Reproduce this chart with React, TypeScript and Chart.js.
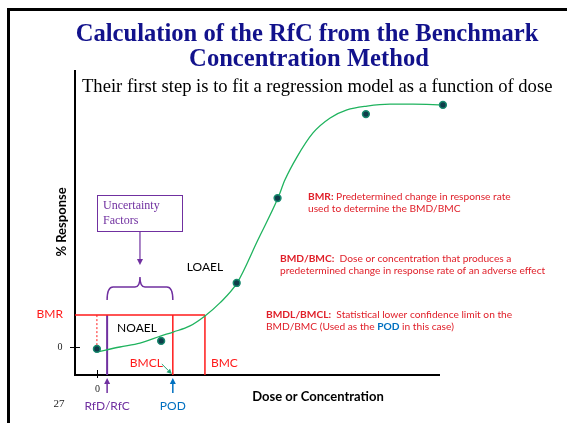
import React, { useEffect, useRef } from "react";
import { Chart, registerables } from "chart.js";

Chart.register(...registerables);

// ---- data (dose units / % response units) ----
const obsDose = [0, 17.6, 38.3, 49.5, 73.7, 94.8];
const obsResp = [-0.6, 2.3, 23.2, 53.8, 84.1, 87.4];
const fitDose = [0, 6.3, 11.8, 17.6, 20.9, 25.5, 29.6, 33.7, 38.4, 44.1, 49.6, 51.5, 54.8, 59.2, 63.9, 68.5, 74, 80.3, 86.6, 94.8];
const fitResp = [-1.7, 0.1, 1.5, 4.1, 5.5, 7.7, 11.3, 16.0, 23.2, 38.7, 53.8, 60.3, 68.6, 77.3, 82.7, 85.6, 87.0, 87.7, 87.7, 87.4];
const bmrLevel = 11.6;
const bmcDose = 29.6;
const bmclDose = 20.8;
const rfcDose = 2.8;
const xTicks = [0];
const yTicks = [0];
const doseRange = [-6, 94];
const respRange = [-10, 100];

const titleLines = ["Calculation of the RfC from the Benchmark", "Concentration Method"];
const subtitle = "Their first step is to fit a regression model as a function of dose";

const RED = "#ff1a1a";
const TXTRED = "#e0202a";
const PURPLE = "#7030a0";
const BLUE = "#0070c0";
const GREEN = "#1fb35e";
const SANS = "Lato, 'Noto Sans', sans-serif";
const SERIF = "'Liberation Serif', serif";

type Run = [string, boolean, string?];

function text(ctx: CanvasRenderingContext2D, s: string, x: number, y: number, font: string, color: string, align: CanvasTextAlign = "left") {
  ctx.font = font;
  ctx.fillStyle = color;
  ctx.textAlign = align;
  ctx.textBaseline = "middle";
  ctx.fillText(s, x, y);
}

function runs(ctx: CanvasRenderingContext2D, parts: Run[], x: number, y: number, size: number) {
  let cx = x;
  ctx.textAlign = "left";
  ctx.textBaseline = "middle";
  for (const [s, bold, col] of parts) {
    ctx.font = `${bold ? "bold " : ""}${size}px ${SANS}`;
    ctx.fillStyle = col || TXTRED;
    ctx.fillText(s, cx, y);
    cx += ctx.measureText(s).width;
  }
}

function arrow(ctx: CanvasRenderingContext2D, x1: number, y1: number, x2: number, y2: number, color: string, width: number, head: number) {
  const ang = Math.atan2(y2 - y1, x2 - x1);
  const bx = x2 - head * Math.cos(ang);
  const by = y2 - head * Math.sin(ang);
  ctx.strokeStyle = color;
  ctx.lineWidth = width;
  ctx.beginPath();
  ctx.moveTo(x1, y1);
  ctx.lineTo(bx, by);
  ctx.stroke();
  const px = -Math.sin(ang) * head * 0.5;
  const py = Math.cos(ang) * head * 0.5;
  ctx.fillStyle = color;
  ctx.beginPath();
  ctx.moveTo(x2, y2);
  ctx.lineTo(bx + px, by + py);
  ctx.lineTo(bx - px, by - py);
  ctx.closePath();
  ctx.fill();
}

const overlay = {
  id: "overlay",
  beforeDatasetsDraw(chart: any) {
    const ctx: CanvasRenderingContext2D = chart.ctx;
    const { left, right, top, bottom } = chart.chartArea;
    const xs = chart.scales.x;
    const ys = chart.scales.y;
    ctx.save();
    // slide frame
    ctx.fillStyle = "#000";
    ctx.fillRect(7, 8, 560, 3);
    ctx.fillRect(7, 8, 3, 415);
    // title
    text(ctx, titleLines[0], 307, 35, `bold 24.6px ${SERIF}`, "#12128c", "center");
    text(ctx, titleLines[1], 309, 60, `bold 24.6px ${SERIF}`, "#12128c", "center");
    text(ctx, subtitle, 82, 87, `18.6px ${SERIF}`, "#000", "left");
    // axes
    ctx.strokeStyle = "#000";
    ctx.lineWidth = 2;
    ctx.beginPath();
    ctx.moveTo(left, top);
    ctx.lineTo(left, bottom);
    ctx.lineTo(right, bottom);
    ctx.stroke();
    ctx.lineWidth = 1;
    for (const v of yTicks) {
      const py = Math.round(ys.getPixelForValue(v)) + 0.5;
      ctx.beginPath();
      ctx.moveTo(left - 5, py);
      ctx.lineTo(left + 5, py);
      ctx.stroke();
      text(ctx, String(v), left - 15, py, `10px ${SERIF}`, "#222", "center");
    }
    for (const v of xTicks) {
      const px = Math.round(xs.getPixelForValue(v)) + 0.5;
      ctx.beginPath();
      ctx.moveTo(px, bottom - 5);
      ctx.lineTo(px, bottom + 3);
      ctx.stroke();
      text(ctx, String(v), px, bottom + 14, `10px ${SERIF}`, "#222", "center");
    }
    ctx.restore();
  },
  afterDatasetsDraw(chart: any) {
    const ctx: CanvasRenderingContext2D = chart.ctx;
    const { left, bottom } = chart.chartArea;
    const xs = chart.scales.x;
    const ys = chart.scales.y;
    const xRfc = xs.getPixelForValue(rfcDose);
    const xBmcl = xs.getPixelForValue(bmclDose);
    const xBmc = xs.getPixelForValue(bmcDose);
    const yBmr = ys.getPixelForValue(bmrLevel);
    ctx.save();
    // axis titles
    ctx.save();
    ctx.translate(62, 222);
    ctx.rotate(-Math.PI / 2);
    text(ctx, "% Response", 0, 0, `bold 13px ${SANS}`, "#000", "center");
    ctx.restore();
    text(ctx, "Dose or Concentration", 318, 397, `bold 13px ${SANS}`, "#000", "center");
    text(ctx, "27", 59, 404, `11px ${SERIF}`, "#222", "center");
    // labels
    const lf = `12px ${SANS}`;
    text(ctx, "BMR", left - 12, yBmr - 1, lf, RED, "right");
    text(ctx, "NOAEL", 137, 328, lf, "#000", "center");
    text(ctx, "LOAEL", 205, 267, lf, "#000", "center");
    text(ctx, "BMCL", xBmcl - 10, bottom - 12, lf, RED, "right");
    text(ctx, "BMC", xBmc + 6, bottom - 12, lf, RED, "left");
    text(ctx, "RfD/RfC", xRfc, bottom + 31, lf, PURPLE, "center");
    text(ctx, "POD", xBmcl, bottom + 31, lf, BLUE, "center");
    // arrows under axis
    arrow(ctx, xRfc, bottom + 18, xRfc, bottom + 3, PURPLE, 1.5, 6);
    arrow(ctx, xBmcl, bottom + 18, xBmcl, bottom + 3, BLUE, 1.5, 6);
    // green arrow BMCL -> POD
    arrow(ctx, xBmcl - 11, bottom - 11, xBmcl - 1, bottom - 1, "#20a070", 1, 5);
    // uncertainty box
    ctx.strokeStyle = PURPLE;
    ctx.lineWidth = 1;
    ctx.strokeRect(97.5, 195.5, 85, 36);
    text(ctx, "Uncertainty", 103, 206, `12px ${SERIF}`, PURPLE, "left");
    text(ctx, "Factors", 103, 221, `12px ${SERIF}`, PURPLE, "left");
    const mid = (xRfc + xBmcl) / 2;
    arrow(ctx, mid, 232, mid, 265, PURPLE, 1.2, 6);
    // brace
    ctx.strokeStyle = PURPLE;
    ctx.lineWidth = 1.5;
    ctx.beginPath();
    ctx.moveTo(xRfc, 300);
    ctx.quadraticCurveTo(xRfc, 287, xRfc + 6, 287);
    ctx.lineTo(mid - 5, 287);
    ctx.quadraticCurveTo(mid, 287, mid, 277);
    ctx.quadraticCurveTo(mid, 287, mid + 5, 287);
    ctx.lineTo(xBmcl - 6, 287);
    ctx.quadraticCurveTo(xBmcl, 287, xBmcl, 300);
    ctx.stroke();
    // notes
    const fs = 10.2;
    runs(ctx, [["BMR:", true], [" Predetermined change in response rate", false]], 308, 197, fs);
    runs(ctx, [["used to determine the BMD/BMC", false]], 308, 209, fs);
    runs(ctx, [["BMD/BMC:", true], ["  Dose or concentration that produces a", false]], 280, 259, fs);
    runs(ctx, [["predetermined change in response rate of an adverse effect", false]], 280, 271, fs);
    runs(ctx, [["BMDL/BMCL:", true], ["  Statistical lower confidence limit on the", false]], 266, 315, fs);
    runs(ctx, [["BMD/BMC (Used as the ", false], ["POD", true, BLUE], [" in this case)", false]], 266, 327, fs);
    ctx.restore();
  },
};

export default function App() {
  const ref = useRef<HTMLCanvasElement>(null);
  useEffect(() => {
    const canvas = ref.current!;
    const yBase = respRange[0];
    const xBase = doseRange[0];
    const chart = new Chart(canvas, {
      type: "scatter",
      data: {
        datasets: [
          {
            label: "observed",
            data: obsDose.map((x, i) => ({ x, y: obsResp[i] })),
            backgroundColor: "#0f3d4a",
            borderColor: "#178a6e",
            borderWidth: 1.5,
            pointRadius: 3.4,
            showLine: false,
            clip: false,
            order: 0,
          },
          {
            label: "fit",
            data: fitDose.map((x, i) => ({ x, y: fitResp[i] })),
            showLine: true,
            borderColor: GREEN,
            borderWidth: 1.3,
            pointRadius: 0,
            cubicInterpolationMode: "monotone",
            clip: false,
            order: 1,
          },
          {
            label: "BMR",
            data: [{ x: xBase, y: bmrLevel }, { x: bmcDose, y: bmrLevel }],
            showLine: true,
            borderColor: RED,
            borderWidth: 1.5,
            pointRadius: 0,
            order: 2,
          },
          {
            label: "BMCL",
            data: [{ x: bmclDose, y: yBase }, { x: bmclDose, y: bmrLevel }],
            showLine: true,
            borderColor: RED,
            borderWidth: 1.5,
            pointRadius: 0,
            order: 2,
          },
          {
            label: "BMC",
            data: [{ x: bmcDose, y: yBase }, { x: bmcDose, y: bmrLevel }],
            showLine: true,
            borderColor: RED,
            borderWidth: 1.5,
            pointRadius: 0,
            order: 2,
          },
          {
            label: "RfC",
            data: [{ x: rfcDose, y: yBase }, { x: rfcDose, y: bmrLevel }],
            showLine: true,
            borderColor: PURPLE,
            borderWidth: 2,
            pointRadius: 0,
            order: 2,
          },
          {
            label: "control",
            data: [{ x: obsDose[0], y: bmrLevel }, { x: obsDose[0], y: obsResp[0] + 1.2 }],
            showLine: true,
            borderColor: RED,
            borderWidth: 1,
            borderDash: [2, 2],
            pointRadius: 0,
            order: 3,
          },
        ],
      },
      options: {
        responsive: false,
        animation: false,
        devicePixelRatio: 1,
        events: [],
        layout: { padding: { left: 75, top: 70, right: 127, bottom: 48 } },
        scales: {
          x: { type: "linear", min: doseRange[0], max: doseRange[1], display: false },
          y: { type: "linear", min: respRange[0], max: respRange[1], display: false },
        },
        plugins: { legend: { display: false }, tooltip: { enabled: false } },
      },
      plugins: [overlay],
    } as any);
    return () => chart.destroy();
  }, []);
  return (
    <div style={{ position: "fixed", left: 0, top: 0, width: 567, height: 423, background: "#fff" }}>
      <canvas ref={ref} width={567} height={423} style={{ display: "block", width: 567, height: 423 }} />
    </div>
  );
}
